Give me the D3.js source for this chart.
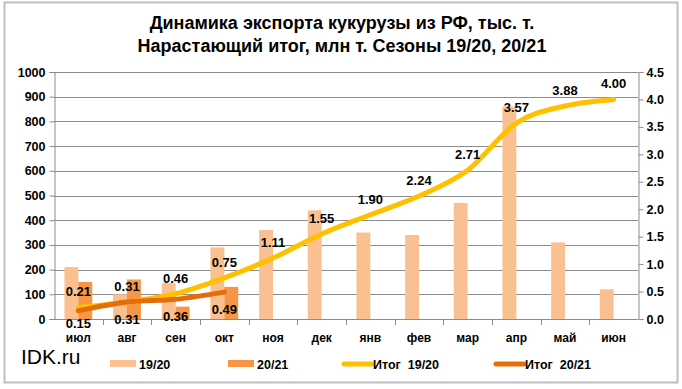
<!DOCTYPE html>
<html>
<head>
<meta charset="utf-8">
<script src="https://cdn.jsdelivr.net/npm/d3@7"></script>
<style>
  body { margin: 0; background: #fff; }
  svg text { font-family: "Liberation Sans", Arial, sans-serif; }
</style>
</head>
<body>
<div id="chart"></div>
<script>
const months = ["июл", "авг", "сен", "окт", "ноя", "дек", "янв", "фев", "мар", "апр", "май", "июн"];
const export1920 = [210, 100, 145, 290, 360, 440, 350, 340, 470, 860, 310, 120];
const export2021 = [150, 160, 50, 130];
const total1920 = [0.21, 0.31, 0.46, 0.75, 1.11, 1.55, 1.90, 2.24, 2.71, 3.57, 3.88, 4.00];
const total2021 = [0.15, 0.31, 0.36, 0.49];
const leftTicks = [0, 100, 200, 300, 400, 500, 600, 700, 800, 900, 1000];
const rightTicks = [0, 0.5, 1.0, 1.5, 2.0, 2.5, 3.0, 3.5, 4.0, 4.5];

const W = 682, H = 389;
const plot = { left: 54, right: 638, top: 72, bottom: 319 };

const colors = {
  bar1920: "#FAC090",
  bar2021: "#F79646",
  line1920: "#FFC000",
  line2021: "#E46C0A",
  grid: "#8C8C8C"
};

const svg = d3.select("#chart").append("svg")
  .attr("width", W)
  .attr("height", H);

// outer frame
svg.append("rect")
  .attr("x", 4.5).attr("y", 2.5)
  .attr("width", 673).attr("height", 380)
  .attr("fill", "#fff")
  .attr("stroke", "#BFBFBF")
  .attr("stroke-width", 2);

// ----- title -----
const title = svg.append("text")
  .attr("text-anchor", "middle")
  .attr("font-size", 18)
  .attr("font-weight", "bold")
  .attr("fill", "#000");
title.append("tspan").attr("x", 342).attr("y", 29).text("Динамика экспорта кукурузы из РФ, тыс. т.");
title.append("tspan").attr("x", 342).attr("y", 52).text("Нарастающий итог, млн т. Сезоны 19/20, 20/21");

// ----- scales -----
const x = d3.scaleBand()
  .domain(months)
  .range([plot.left, plot.right]);

const xInner = d3.scaleBand()
  .domain(["19/20", "20/21"])
  .range([0, x.bandwidth()])
  .paddingOuter(0.75)
  .paddingInner(0);

const yLeft = d3.scaleLinear()
  .domain([0, 1000])
  .range([plot.bottom, plot.top]);

const yRight = d3.scaleLinear()
  .domain([0, 4.5])
  .range([plot.bottom, plot.top]);

// ----- grid -----
svg.append("g")
  .selectAll("line")
  .data(leftTicks.slice(1))
  .join("line")
  .attr("x1", plot.left).attr("x2", plot.right)
  .attr("y1", d => Math.round(yLeft(d)) + 0.5)
  .attr("y2", d => Math.round(yLeft(d)) + 0.5)
  .attr("stroke", colors.grid)
  .attr("stroke-width", 1);

// ----- axes -----
const axisLeft = svg.append("g")
  .attr("transform", `translate(${plot.left + 0.5},0)`)
  .call(d3.axisLeft(yLeft).tickValues(leftTicks).tickSize(5).tickPadding(4).tickFormat(d3.format("d")));

const axisRight = svg.append("g")
  .attr("transform", `translate(${plot.right + 0.5},0)`)
  .call(d3.axisRight(yRight).tickValues(rightTicks).tickSize(5).tickPadding(3).tickFormat(d3.format(".1f")));

const axisBottom = svg.append("g")
  .attr("transform", `translate(0,${plot.bottom + 0.5})`)
  .call(d3.axisBottom(x).tickSize(0).tickPadding(14));

// category boundary ticks on the x axis
svg.append("g")
  .selectAll("line")
  .data(months.slice(1))
  .join("line")
  .attr("x1", d => Math.round(x(d)) + 0.5)
  .attr("x2", d => Math.round(x(d)) + 0.5)
  .attr("y1", plot.bottom)
  .attr("y2", plot.bottom + 6)
  .attr("stroke", colors.grid);

[axisLeft, axisRight, axisBottom].forEach(a => {
  a.select(".domain").attr("stroke", colors.grid);
  a.selectAll(".tick line").attr("stroke", colors.grid);
  a.selectAll("text")
    .attr("font-size", 12.5)
    .attr("font-weight", "bold")
    .attr("fill", "#000")
    .style("font-family", "'Liberation Sans', Arial, sans-serif");
});
axisBottom.selectAll("text").attr("font-size", 12);
axisBottom.select(".domain").attr("d", `M${plot.left},0H${plot.right}`);

// ----- bars -----
svg.append("g")
  .selectAll("rect")
  .data(export1920)
  .join("rect")
  .attr("x", (d, i) => x(months[i]) + xInner("19/20"))
  .attr("y", d => yLeft(d))
  .attr("width", xInner.bandwidth())
  .attr("height", d => yLeft(0) - yLeft(d))
  .attr("fill", colors.bar1920);

svg.append("g")
  .selectAll("rect")
  .data(export2021)
  .join("rect")
  .attr("x", (d, i) => x(months[i]) + xInner("20/21"))
  .attr("y", d => yLeft(d))
  .attr("width", xInner.bandwidth())
  .attr("height", d => yLeft(0) - yLeft(d))
  .attr("fill", colors.bar2021);

// ----- cumulative lines -----
const line = d3.line()
  .x((d, i) => x(months[i]) + x.bandwidth() / 2)
  .y(d => yRight(d))
  .curve(d3.curveCatmullRom.alpha(0));

svg.append("path")
  .datum(total1920)
  .attr("d", line)
  .attr("fill", "none")
  .attr("stroke", colors.line1920)
  .attr("stroke-width", 5)
  .attr("stroke-linecap", "round");

svg.append("path")
  .datum(total2021)
  .attr("d", line)
  .attr("fill", "none")
  .attr("stroke", colors.line2021)
  .attr("stroke-width", 5)
  .attr("stroke-linecap", "round");

// ----- data labels -----
svg.append("g")
  .selectAll("text")
  .data(total1920)
  .join("text")
  .attr("x", (d, i) => x(months[i]) + x.bandwidth() / 2)
  .attr("y", d => yRight(d) - 11)
  .attr("text-anchor", "middle")
  .attr("font-size", 13)
  .attr("font-weight", "bold")
  .attr("fill", "#000")
  .text(d => d.toFixed(2));

svg.append("g")
  .selectAll("text")
  .data(total2021)
  .join("text")
  .attr("x", (d, i) => x(months[i]) + x.bandwidth() / 2)
  .attr("y", (d, i) => yRight(d) + (i === 0 ? 17 : 22))
  .attr("text-anchor", "middle")
  .attr("font-size", 13)
  .attr("font-weight", "bold")
  .attr("fill", "#000")
  .text(d => d.toFixed(2));

// ----- watermark -----
svg.append("text")
  .attr("x", 21).attr("y", 364)
  .attr("font-size", 21)
  .attr("fill", "#000")
  .text("IDK.ru");

// ----- legend -----
const legendItems = [
  { name: "19/20", type: "bar", color: colors.bar1920, x: 110 },
  { name: "20/21", type: "bar", color: colors.bar2021, x: 228 },
  { name: "Итог  19/20", type: "line", color: colors.line1920, x: 344 },
  { name: "Итог  20/21", type: "line", color: colors.line2021, x: 496 }
];

const legend = svg.append("g").attr("transform", "translate(0,364)");
legendItems.forEach(d => {
  const row = legend.append("g").attr("transform", `translate(${d.x},0)`);
  if (d.type === "bar") {
    row.append("rect")
      .attr("x", 0).attr("y", -4)
      .attr("width", 26).attr("height", 7)
      .attr("fill", d.color);
  } else {
    row.append("line")
      .attr("x1", 0).attr("x2", 28)
      .attr("y1", 0).attr("y2", 0)
      .attr("stroke", d.color)
      .attr("stroke-width", 5)
      .attr("stroke-linecap", "round");
  }
  row.append("text")
    .attr("x", 29)
    .attr("y", 5)
    .attr("font-size", 12.5)
    .attr("font-weight", "bold")
    .attr("xml:space", "preserve")
    .style("white-space", "pre")
    .attr("fill", "#000")
    .text(d.name);
});
</script>
</body>
</html>
